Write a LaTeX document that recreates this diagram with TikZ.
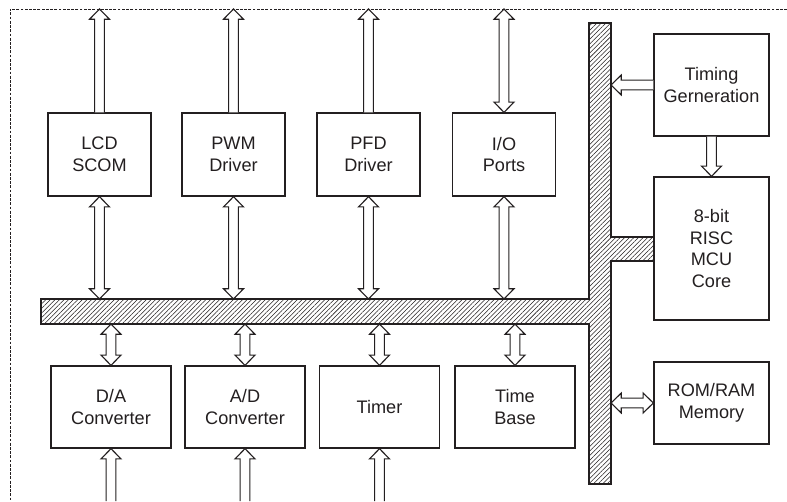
\documentclass[tikz,border=0pt]{standalone}
\usepackage{fontspec}
\setmainfont{Liberation Sans}
\usetikzlibrary{calc,patterns.meta}
\definecolor{ink}{HTML}{231F20}
% block arrow sizes
\newcommand{\shaft}{3.5pt}
\newcommand{\headw}{7.1pt}
\newcommand{\headl}{7.3pt}
% hollow arrow from #1 to tip #2
\newcommand{\singlearrow}[2]{%
  \path ($(#2)!\headl!(#1)$) coordinate (hb);
  \draw[blockarrow] ($(#1)!\shaft!90:(#2)$) -- ($(hb)!\shaft!90:(#2)$) -- ($(hb)!\headw!90:(#2)$) -- (#2)
    -- ($(hb)!\headw!-90:(#2)$) -- ($(hb)!\shaft!-90:(#2)$) -- ($(#1)!\shaft!-90:(#2)$);
}
% hollow arrow with tips at #1 and #2
\newcommand{\doublearrow}[2]{%
  \path ($(#1)!\headl!(#2)$) coordinate (ha) ($(#2)!\headl!(#1)$) coordinate (hb);
  \draw[blockarrow] (#1) -- ($(ha)!\headw!90:(#2)$) -- ($(ha)!\shaft!90:(#2)$) -- ($(hb)!\shaft!90:(#2)$)
    -- ($(hb)!\headw!90:(#2)$) -- (#2) -- ($(hb)!\headw!-90:(#2)$) -- ($(hb)!\shaft!-90:(#2)$)
    -- ($(ha)!\shaft!-90:(#2)$) -- ($(ha)!\headw!-90:(#2)$) -- cycle;
}
\tikzset{
  block/.style={draw=ink, line width=0.9pt, fill=white, align=center, inner sep=0pt},
  topbox/.style={block, minimum width=2.575cm, minimum height=2.075cm},
  lowbox/.style={block, minimum width=3cm, minimum height=2.05cm},
  sidebox/.style={block, minimum width=2.875cm},
  blockarrow/.style={draw=ink, line width=0.8pt, fill=white, line join=miter},
  bus/.style={draw=ink, line width=0.9pt, pattern={Lines[angle=45,distance=2.3pt,line width=0.38pt]}, pattern color=ink},
}
\begin{document}
\begin{tikzpicture}[x=0.025cm, y=-0.025cm, font=\fontsize{12.9}{15.5}\selectfont, text=ink]
\useasboundingbox (0,0) rectangle (787,501);
% frame
\coordinate (frameTL) at (10,9);
\coordinate (frameBL) at (10,501);
\draw[ink, line width=0.7pt, dash pattern=on 2pt off 1pt] (787,9) -- (frameTL) -- (frameBL);
% bus
\coordinate (busTL) at (41,299);
\coordinate (busBL) at (41,324);
\coordinate (busR) at (611,237);
\draw[bus] (busTL) -- (589,299) -- (589,23) -- (611,23) -- (busR) -- (655,237) -- (655,261) -- (611,261)
  -- (611,484) -- (589,484) -- (589,324) -- (busBL) -- cycle;
% upper blocks
\node[topbox] (lcd) at (99.5,154.5) {LCD\\SCOM};
\node[topbox] (pwm) at (233.5,154.5) {PWM\\Driver};
\node[topbox] (pfd) at (368.5,154.5) {PFD\\Driver};
\node[topbox] (io) at (504,154.5) {I/O\\Ports};
% lower blocks
\node[lowbox] (da) at (111,407) {D/A\\Converter};
\node[lowbox] (ad) at (245,407) {A/D\\Converter};
\node[lowbox] (timer) at (379.5,407) {Timer};
\node[lowbox] (tb) at (515,407) {Time\\Base};
% right blocks
\node[sidebox, minimum height=2.55cm] (timing) at (711.5,85) {Timing\\Gerneration};
\node[sidebox, minimum height=3.575cm] (mcu) at (711.5,248.5) {8-bit\\RISC\\MCU\\Core};
\node[sidebox, minimum height=2.05cm] (rom) at (711.5,403) {ROM/RAM\\Memory};
% arrows
\foreach \b in {lcd,pwm,pfd}{
  \coordinate (\b out) at (\b.north |- frameTL);
  \singlearrow{\b.north}{\b out}
}
\coordinate (ioout) at (io.north |- frameTL);
\doublearrow{io.north}{ioout}
\foreach \b in {lcd,pwm,pfd,io}{
  \coordinate (\b bus) at (\b.south |- busTL);
  \doublearrow{\b.south}{\b bus}
}
\foreach \b in {da,ad,timer,tb}{
  \coordinate (\b bus) at (\b.north |- busBL);
  \doublearrow{\b bus}{\b.north}
}
\foreach \b in {da,ad,timer}{
  \coordinate (\b in) at (\b.south |- frameBL);
  \singlearrow{\b in}{\b.south}
}
\coordinate (timingbus) at (timing.west -| busR);
\singlearrow{timing.west}{timingbus}
\singlearrow{timing.south}{mcu.north}
\coordinate (rombus) at (rom.west -| busR);
\doublearrow{rombus}{rom.west}
\end{tikzpicture}
\end{document}
